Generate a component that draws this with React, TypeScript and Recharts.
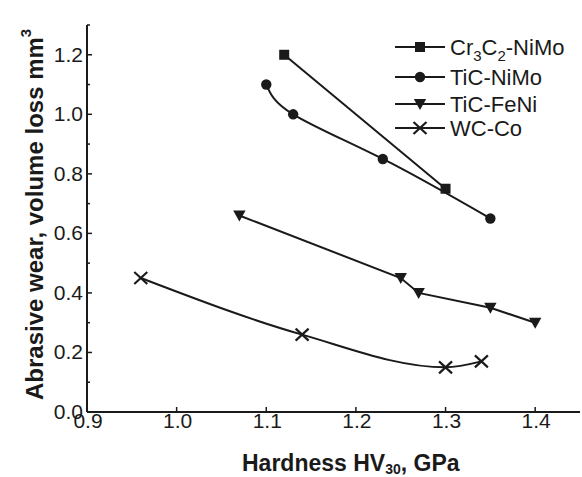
import React from 'react';
import { LineChart, Line, XAxis, YAxis } from 'recharts';

const cr3c2NiMo = [
  { x: 1.12, y: 1.2 },
  { x: 1.3, y: 0.75 },
];
const ticNiMo = [
  { x: 1.1, y: 1.1 },
  { x: 1.13, y: 1.0 },
  { x: 1.23, y: 0.85 },
  { x: 1.35, y: 0.65 },
];
const ticFeNi = [
  { x: 1.07, y: 0.66 },
  { x: 1.25, y: 0.45 },
  { x: 1.27, y: 0.4 },
  { x: 1.35, y: 0.35 },
  { x: 1.4, y: 0.3 },
];
const wcCo = [
  { x: 0.96, y: 0.45 },
  { x: 1.14, y: 0.26 },
  { x: 1.3, y: 0.15 },
  { x: 1.34, y: 0.17 },
];

const xTicks = [0.9, 1.0, 1.1, 1.2, 1.3, 1.4];
const yTicks = [0, 0.1, 0.2, 0.3, 0.4, 0.5, 0.6, 0.7, 0.8, 0.9, 1.0, 1.1, 1.2, 1.3];

const INK = '#1a1a1a';
const FONT = '"Liberation Sans", Arial, sans-serif';

type Shape = 'square' | 'circle' | 'triangle' | 'cross';

function Marker({ cx, cy, shape }: { cx: number; cy: number; shape: Shape }) {
  if (cx == null || cy == null) return null;
  if (shape === 'square') return <rect x={cx - 5} y={cy - 5} width={10} height={10} fill={INK} />;
  if (shape === 'circle') return <circle cx={cx} cy={cy} r={5.2} fill={INK} />;
  if (shape === 'triangle')
    return <polygon points={`${cx - 6.2},${cy - 5} ${cx + 6.2},${cy - 5} ${cx},${cy + 6}`} fill={INK} />;
  return (
    <g stroke={INK} strokeWidth={2.2}>
      <line x1={cx - 6.5} y1={cy - 6} x2={cx + 6.5} y2={cy + 6} />
      <line x1={cx - 6.5} y1={cy + 6} x2={cx + 6.5} y2={cy - 6} />
    </g>
  );
}

const series: { key: string; data: { x: number; y: number }[]; shape: Shape; type: any }[] = [
  { key: 'Cr3C2-NiMo', data: cr3c2NiMo, shape: 'square', type: 'linear' },
  { key: 'TiC-NiMo', data: ticNiMo, shape: 'circle', type: 'natural' },
  { key: 'TiC-FeNi', data: ticFeNi, shape: 'triangle', type: 'linear' },
  { key: 'WC-Co', data: wcCo, shape: 'cross', type: 'monotone' },
];

const YTick = (props: any) => {
  const { x, y, payload } = props;
  const v = Math.round(payload.value * 10) / 10;
  const major = Math.round(v * 10) % 2 === 0;
  return (
    <g>
      <line x1={x} y1={y} x2={x + (major ? 5 : 3)} y2={y} stroke={INK} strokeWidth={1.5} />
      {major && (
        <text x={x - 4} y={y + 7} textAnchor="end" fontSize={21} fontFamily={FONT} fill={INK}>
          {v.toFixed(1)}
        </text>
      )}
    </g>
  );
};

const XTick = (props: any) => {
  const { x, y, payload } = props;
  const v = payload.value;
  return (
    <g>
      {v > 0.95 && <line x1={x} y1={y} x2={x} y2={y - 5} stroke={INK} strokeWidth={1.5} />}
      <text x={x + 1} y={y + 16} textAnchor="middle" fontSize={21} fontFamily={FONT} fill={INK}>
        {v.toFixed(1)}
      </text>
    </g>
  );
};

const legendY = [47, 77, 104, 128];

export default function App() {
  return (
    <div style={{ position: 'absolute', left: 0, top: 0, width: 582, height: 477, background: '#fff' }}>
      <LineChart width={582} height={477} margin={{ top: 25, right: 2, bottom: 0, left: 0 }}>
        <XAxis
          type="number"
          dataKey="x"
          domain={[0.9, 1.45]}
          ticks={xTicks}
          allowDataOverflow
          height={65}
          tickSize={0}
          tickMargin={0}
          tickLine={false}
          axisLine={{ stroke: INK, strokeWidth: 2 }}
          tick={<XTick />}
          interval={0}
        />
        <YAxis
          type="number"
          dataKey="y"
          domain={[0, 1.3]}
          ticks={yTicks}
          allowDataOverflow
          width={87}
          tickSize={0}
          tickMargin={0}
          tickLine={false}
          axisLine={{ stroke: INK, strokeWidth: 2 }}
          tick={<YTick />}
          interval={0}
        />
        {series.map((s) => (
          <Line
            key={s.key}
            data={s.data}
            dataKey="y"
            name={s.key}
            type={s.type}
            stroke={INK}
            strokeWidth={2}
            isAnimationActive={false}
            dot={(p: any) => <Marker key={`${s.key}-${p.index}`} cx={p.cx} cy={p.cy} shape={s.shape} />}
            activeDot={false}
          />
        ))}
      </LineChart>
      <svg
        width={582}
        height={477}
        style={{ position: 'absolute', left: 0, top: 0, pointerEvents: 'none' }}
        fontFamily={FONT}
      >
        {series.map((s, i) => (
          <g key={s.key}>
            <line x1={395} y1={legendY[i]} x2={445} y2={legendY[i]} stroke={INK} strokeWidth={2} />
            <Marker cx={420} cy={legendY[i]} shape={s.shape} />
          </g>
        ))}
        <text x={450} y={legendY[0] + 8} fontSize={22} fill={INK}>
          Cr<tspan fontSize={15} dy={6}>3</tspan>
          <tspan dy={-6}>C</tspan>
          <tspan fontSize={15} dy={6}>2</tspan>
          <tspan dy={-6}>-NiMo</tspan>
        </text>
        <text x={450} y={legendY[1] + 8} fontSize={22} fill={INK}>TiC-NiMo</text>
        <text x={450} y={legendY[2] + 8} fontSize={22} fill={INK}>TiC-FeNi</text>
        <text x={450} y={legendY[3] + 8} fontSize={22} fill={INK}>WC-Co</text>
        <text x={242} y={471} fontSize={23} fontWeight="bold" fill={INK}>
          Hardness HV<tspan fontSize={14} dy={3}>30</tspan>
          <tspan dy={-3}>, GPa</tspan>
        </text>
        <text
          transform="translate(43,400) rotate(-90)"
          x={0}
          y={0}
          fontSize={24}
          fontWeight="bold"
          fill={INK}
        >
          Abrasive wear, volume loss mm<tspan fontSize={15} dy={-12}>3</tspan>
        </text>
      </svg>
    </div>
  );
}
